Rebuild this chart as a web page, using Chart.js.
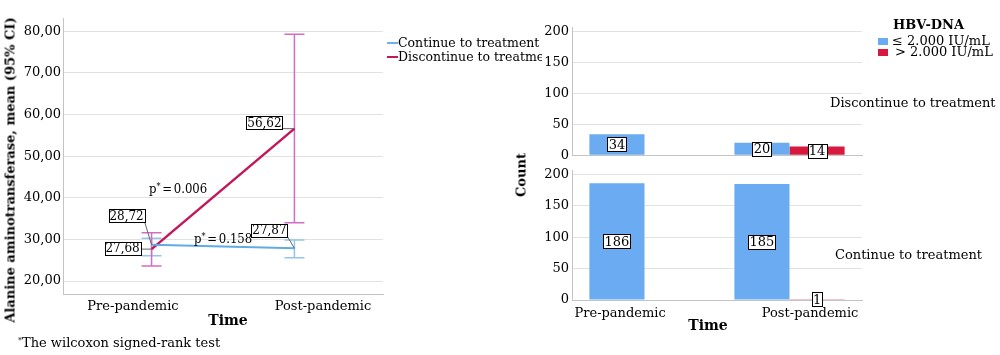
<!DOCTYPE html>
<html><head><meta charset="utf-8">
<script src="https://cdn.jsdelivr.net/npm/chart.js@4"></script>
<style>
body{margin:0;width:1000px;height:355px;background:#fff;position:relative;overflow:hidden;font-family:"DejaVu Serif",serif;color:#000}
canvas{position:absolute}
.t{position:absolute;white-space:nowrap;font-size:13px;line-height:1}
.b{font-weight:bold}
.sup{font-size:8px;position:relative;top:-4px}
.rot{transform:translate(-50%,-50%) rotate(-90deg)}
.cen{transform:translate(-50%,-50%)}
.vm{transform:translateY(-50%)}
.pv{font-family:"DejaVu Serif Condensed","DejaVu Serif",serif;font-stretch:condensed;font-size:13px;word-spacing:-2px}
.pv .sup{font-size:9px;top:-4px}
</style></head><body>
<canvas id="c1" width="400" height="335" style="left:0;top:0"></canvas>
<canvas id="c2" width="400" height="166" style="left:500px;top:0"></canvas>
<canvas id="c3" width="400" height="195" style="left:500px;top:160px"></canvas>

<div class="t b rot" style="left:10px;top:170px">Alanine aminotransferase, mean (95% CI)</div>
<div class="t b cen" style="left:228px;top:320px;font-size:14px">Time</div>
<div class="t" style="left:18px;top:336px"><span class="sup">*</span>The wilcoxon signed-rank test</div>
<div class="t vm pv" style="left:149px;top:188px">p<span class="sup">*</span> = 0.006</div>
<div class="t vm pv" style="left:194px;top:238px">p<span class="sup">*</span> = 0.158</div>

<div style="position:absolute;left:387px;top:42px;width:11px;height:2px;background:#6db3e6"></div>
<div style="position:absolute;left:387px;top:56px;width:11px;height:2px;background:#c2185b"></div>
<div class="t vm" style="left:398px;top:43px;font-size:12.5px">Continue to treatment</div>
<div class="t vm" style="left:398px;top:57px;width:144px;overflow:hidden;font-size:12.5px">Discontinue to treatment</div>

<div class="t b vm" style="left:893px;top:24px">HBV-DNA</div>
<div style="position:absolute;left:878px;top:38px;width:10px;height:7px;background:#6aabf2"></div>
<div style="position:absolute;left:878px;top:49px;width:10px;height:7px;background:#d7193d"></div>
<div class="t vm" style="left:892px;top:40px">≤ 2.000 IU/mL</div>
<div class="t vm" style="left:895px;top:51px">&gt; 2.000 IU/mL</div>
<div class="t vm" style="left:830px;top:102px">Discontinue to treatment</div>
<div class="t vm" style="left:835px;top:254px">Continue to treatment</div>
<div class="t b rot" style="left:521px;top:175px">Count</div>
<div class="t b cen" style="left:708px;top:325px;font-size:14px">Time</div>

<script>
// ---- data ----
const timeLabels = ['Pre-pandemic', 'Post-pandemic'];
const contMean = [28.72, 27.87];
const contLow  = [26.1, 25.6];
const contHigh = [30.3, 29.9];
const discMean = [27.68, 56.62];
const discLow  = [23.6, 34.0];
const discHigh = [31.6, 79.3];
const altTicks = [20, 30, 40, 50, 60, 70, 80];
const countTicks = [0, 50, 100, 150, 200];
const discLE = [34, 20];
const discGT = [null, 14];
const contLE = [186, 185];
const contGT = [null, 1];
const hbvLabels = ['≤ 2.000 IU/mL', '> 2.000 IU/mL'];

Chart.defaults.font.family = '"DejaVu Serif", serif';
Chart.defaults.font.size = 13;
Chart.defaults.color = '#000';

const GRID = '#e2e2e2', AXIS = '#c4c4c4';
const fmt = v => v.toFixed(2).replace('.', ',');

function drawBox(ctx, text, cx, cy, fontPx, padX) {
  ctx.save();
  ctx.font = fontPx + 'px "DejaVu Serif", serif';
  const w = Math.round(ctx.measureText(text).width + padX * 2);
  const h = fontPx + 1;
  const x0 = Math.round(cx - w / 2) + 0.5, y0 = Math.round(cy - h / 2) + 0.5;
  ctx.fillStyle = '#fff'; ctx.fillRect(x0, y0, w, h);
  ctx.strokeStyle = '#000'; ctx.lineWidth = 1; ctx.strokeRect(x0, y0, w, h);
  ctx.fillStyle = '#000'; ctx.textAlign = 'center'; ctx.textBaseline = 'middle';
  ctx.fillText(text, cx, cy + 1);
  ctx.restore();
  return {x0, y0, w, h};
}

// error bars
const errSpec = [
  {low: contLow, high: contHigh, color: '#93c6ea'},
  {low: discLow, high: discHigh, color: '#d46cc4'}
];
const errorBars = {
  id: 'errorBars',
  beforeDatasetsDraw(chart) {
    const {ctx, scales: {x, y}} = chart;
    ctx.save();
    ctx.lineWidth = 1.5;
    errSpec.forEach(s => {
      ctx.strokeStyle = s.color;
      s.low.forEach((lo, i) => {
        const px = x.getPixelForValue(i);
        const yl = y.getPixelForValue(lo), yh = y.getPixelForValue(s.high[i]);
        ctx.beginPath();
        ctx.moveTo(px, yl); ctx.lineTo(px, yh);
        ctx.moveTo(px - 10, yl); ctx.lineTo(px + 10, yl);
        ctx.moveTo(px - 10, yh); ctx.lineTo(px + 10, yh);
        ctx.stroke();
      });
    });
    ctx.restore();
  }
};

// value labels with leader lines (offsets are layout)
const labelSpec = [
  {ds: 0, i: 0, dx: -25, dy: -29},
  {ds: 1, i: 0, dx: -29, dy: -1},
  {ds: 0, i: 1, dx: -25, dy: -18},
  {ds: 1, i: 1, dx: -30, dy: -6}
];
const valueLabels = {
  id: 'valueLabels',
  afterDatasetsDraw(chart) {
    const {ctx, scales: {x, y}} = chart;
    labelSpec.forEach(s => {
      const v = chart.data.datasets[s.ds].data[s.i].y;
      const px = x.getPixelForValue(s.i), py = y.getPixelForValue(v);
      const cx = px + s.dx, cy = py + s.dy;
      ctx.save();
      ctx.font = '12px "DejaVu Serif", serif';
      const w = ctx.measureText(fmt(v)).width + 2, h = 13;
      const ax = Math.min(Math.max(px, cx - w / 2), cx + w / 2);
      const ay = Math.min(Math.max(py, cy - h / 2), cy + h / 2);
      ctx.strokeStyle = '#666'; ctx.lineWidth = 1;
      ctx.beginPath(); ctx.moveTo(ax, ay); ctx.lineTo(px, py); ctx.stroke();
      ctx.restore();
      drawBox(ctx, fmt(v), cx, cy, 12, 1);
    });
  }
};

new Chart(document.getElementById('c1'), {
  type: 'line',
  data: {
    datasets: [
      {label: 'Continue to treatment', data: contMean.map((v, i) => ({x: i, y: v})),
       borderColor: '#5fabe4', borderWidth: 2, pointRadius: 0, tension: 0},
      {label: 'Discontinue to treatment', data: discMean.map((v, i) => ({x: i, y: v})),
       borderColor: '#c2185b', borderWidth: 2.5, pointRadius: 0, tension: 0}
    ]
  },
  options: {
    responsive: false, animation: false,
    layout: {padding: {left: 0, right: 17, top: 18, bottom: 0}},
    plugins: {legend: {display: false}, tooltip: {enabled: false}},
    scales: {
      x: {
        type: 'linear', min: -0.62, max: 1.62, offset: false,
        grid: {display: false, drawTicks: false},
        border: {color: AXIS},
        afterBuildTicks: s => { s.ticks = [{value: -0.13}, {value: 1.2}]; },
        ticks: {callback: (v, i) => timeLabels[i], padding: 5, maxRotation: 0, autoSkip: false},
        afterFit: s => { s.height = 41; }
      },
      y: {
        min: 16.9, max: 83.2,
        afterBuildTicks: s => { s.ticks = altTicks.map(v => ({value: v})); },
        ticks: {callback: v => fmt(v), padding: 2},
        grid: {color: GRID, drawTicks: false},
        border: {color: AXIS},
        afterFit: s => { s.width = 63; }
      }
    }
  },
  plugins: [errorBars, valueLabels]
});

const barLabels = {
  id: 'barLabels',
  afterDatasetsDraw(chart) {
    const {ctx} = chart;
    chart.data.datasets.forEach((ds, di) => {
      const meta = chart.getDatasetMeta(di);
      meta.data.forEach((bar, i) => {
        const v = ds.data[i];
        if (v === null || v === undefined) return;
        drawBox(ctx, String(v), bar.x, (bar.y + bar.base) / 2, 13, 1);
      });
    });
  }
};

function barChart(id, le, gt, max, pad, showLabels) {
  const scales = {
    x: {
      display: showLabels ? false : true,
      grid: {display: false, drawTicks: false},
      border: {color: AXIS},
      ticks: {display: false},
      afterFit: s => { s.height = 0; }
    },
    y: {
      min: 0, max: max,
      afterBuildTicks: s => { s.ticks = countTicks.map(v => ({value: v})); },
      ticks: {padding: 3},
      grid: {color: GRID, drawTicks: false},
      border: {color: AXIS},
      afterFit: s => { s.width = 72; }
    }
  };
  if (showLabels) {
    scales.xl = {
      type: 'linear', position: 'bottom', min: 0, max: 1, offset: false,
      grid: {display: false, drawTicks: false, offset: false},
      border: {color: AXIS},
      afterBuildTicks: s => { s.ticks = [{value: 0.166}, {value: 0.821}]; },
      ticks: {callback: (v, i) => timeLabels[i], padding: 6, maxRotation: 0, autoSkip: false},
      afterFit: s => { s.height = 55; }
    };
  }
  new Chart(document.getElementById(id), {
    type: 'bar',
    data: {
      labels: timeLabels,
      datasets: [
        {label: hbvLabels[0], data: le, backgroundColor: '#6aabf2'},
        {label: hbvLabels[1], data: gt, backgroundColor: '#d7193d'}
      ]
    },
    options: {
      responsive: false, animation: false,
      categoryPercentage: 0.76, barPercentage: 1.0,
      layout: {padding: pad},
      plugins: {legend: {display: false}, tooltip: {enabled: false}},
      scales: scales
    },
    plugins: [barLabels]
  });
}

barChart('c2', discLE, discGT, 208, {left: 0, right: 38, top: 27, bottom: 5}, false);
barChart('c3', contLE, contGT, 206, {left: 0, right: 38, top: 8, bottom: 0}, true);
</script>
</body></html>
